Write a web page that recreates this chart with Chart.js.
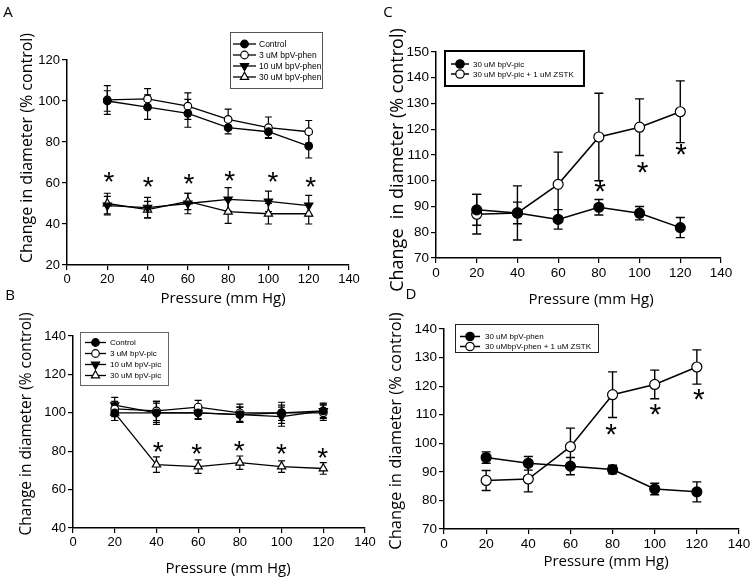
<!DOCTYPE html>
<html>
<head>
<meta charset="utf-8">
<script src="https://cdn.jsdelivr.net/npm/chart.js@4.4.1/dist/chart.umd.min.js"></script>
<style>
  html, body { margin: 0; padding: 0; background: #fff; }
  #wrap { position: relative; width: 753px; height: 580px; }
  canvas { position: absolute; left: 0; top: 0; }
</style>
</head>
<body>
<div id="wrap">
  <canvas id="panelA" width="753" height="580"></canvas>
  <canvas id="panelB" width="753" height="580"></canvas>
  <canvas id="panelC" width="753" height="580"></canvas>
  <canvas id="panelD" width="753" height="580"></canvas>
</div>
<script>
// Pressure steps (mm Hg)
const pressure = [20, 40, 60, 80, 100, 120];

// A: bpV-phen
const aControl    = [100, 97, 94, 87, 85, 78];
const aControlErr = [5, 6, 6.8, 3, 2.8, 5.8];
const a3uM        = [100.5, 101, 97.5, 91, 87, 85];
const a3uMErr     = [7, 5, 6.5, 5, 5.2, 5.5];
const a10uM       = [49, 48, 50, 52, 51, 49];
const a10uMErr    = [4.5, 5, 5, 5.7, 5, 5];
const a30uM       = [50, 47, 51, 46, 45, 45];
const a30uMErr    = [5, 4, 4, 5.7, 5, 5];
const aStarX      = [20.8, 40.3, 60.5, 80.8, 102.3, 121];
const aStarY      = [63, 60.6, 61.8, 63.4, 62.8, 60.6];

// B: bpV-pic
const bControl    = [100, 100, 100, 99, 100, 101];
const bControlErr = [4, 5, 3.5, 4, 4, 3.5];
const b3uM        = [102, 101, 103, 100, 100, 100];
const b3uMErr     = [4, 5, 3.5, 4.5, 5.5, 4];
const b10uM       = [104, 100, 100, 99, 98, 101];
const b10uMErr    = [4, 6, 3, 4, 5, 4];
const b30uM       = [100, 73, 72, 74, 72, 71];
const b30uMErr    = [4, 4, 3.5, 3.5, 3, 3];
const bStarX      = [40.9, 59.3, 79.7, 100, 119.7];
const bStarY      = [82.3, 81, 82.7, 81, 78.9];

// C: bpV-pic +/- ZSTK
const cPic        = [88.7, 87.5, 85, 89.7, 87.4, 81.8];
const cPicErr     = [6, 4.2, 3.8, 3, 2.6, 3.9];
const cZstk       = [87, 87.5, 98.6, 117, 120.8, 126.8];
const cZstkErr    = [7.7, 10.5, 12.5, 17, 11, 12];
const cStarX      = [80.6, 101.5, 120.4];
const cStarY      = [97.7, 105.1, 112];

// D: bpV-phen +/- ZSTK
const dPhen       = [95, 93, 92, 90.8, 84, 83];
const dPhenErr    = [2, 2.4, 3, 1.5, 2, 3.5];
const dZstk       = [87, 87.5, 98.8, 117, 120.6, 126.7];
const dZstkErr    = [3.5, 4.5, 6.5, 8, 5, 6];
const dStarX      = [79.3, 100.3, 120.9];
const dStarY      = [104.9, 112, 117.1];

const xTicks = [0, 140, 20];
const yTicksA = [20, 120, 20];
const yTicksB = [40, 140, 20];
const yTicksC = [70, 150, 10];
const yTicksD = [70, 140, 10];

const FILLED = { bg: '#000', style: 'circle', rot: 0 };
const OPEN = { bg: '#fff', style: 'circle', rot: 0 };
const DOWN = { bg: '#000', style: 'triangle', rot: 180 };
const UP = { bg: '#fff', style: 'triangle', rot: 0 };

Chart.defaults.font.family = '"Liberation Sans", Arial, sans-serif';
Chart.defaults.color = '#000';

function makeExtras(p) {
  return {
    id: 'extras',
    beforeDatasetsDraw(chart) {
      const ctx = chart.ctx, xs = chart.scales.x, ys = chart.scales.y;
      ctx.save();
      ctx.strokeStyle = '#000';
      ctx.lineWidth = p.barWidth;
      chart.data.datasets.forEach(ds => {
        ds.data.forEach((pt, i) => {
          const e = ds.errors[i];
          const x = xs.getPixelForValue(pt.x);
          const y1 = ys.getPixelForValue(pt.y + e);
          const y2 = ys.getPixelForValue(pt.y - e);
          ctx.beginPath();
          ctx.moveTo(x, y1); ctx.lineTo(x, y2);
          ctx.moveTo(x - p.cap, y1); ctx.lineTo(x + p.cap, y1);
          ctx.moveTo(x - p.cap, y2); ctx.lineTo(x + p.cap, y2);
          ctx.stroke();
        });
      });
      ctx.restore();
    },
    afterDraw(chart) {
      const ctx = chart.ctx, xs = chart.scales.x, ys = chart.scales.y;
      ctx.save();
      ctx.fillStyle = '#000';

      // asterisks
      ctx.font = p.starSize + 'px "Liberation Sans", Arial, sans-serif';
      ctx.textAlign = 'center';
      ctx.textBaseline = 'alphabetic';
      const m = ctx.measureText('*');
      const shift = (m.actualBoundingBoxAscent - m.actualBoundingBoxDescent) / 2;
      p.starX.forEach((sx, i) => {
        ctx.fillText('*', xs.getPixelForValue(sx), ys.getPixelForValue(p.starY[i]) + shift);
      });

      // legend box
      const lg = p.legend;
      ctx.strokeStyle = lg.border;
      ctx.lineWidth = lg.borderWidth;
      ctx.strokeRect(lg.box[0], lg.box[1], lg.box[2], lg.box[3]);
      ctx.font = lg.font + 'px "Liberation Sans", Arial, sans-serif';
      ctx.textAlign = 'left';
      ctx.textBaseline = 'middle';
      chart.data.datasets.forEach((ds, i) => {
        const y = lg.rows[i];
        ctx.strokeStyle = '#000';
        ctx.lineWidth = ds.borderWidth;
        ctx.beginPath();
        ctx.moveTo(lg.line[0], y); ctx.lineTo(lg.line[1], y);
        ctx.stroke();
        ctx.fillStyle = ds.pointBackgroundColor;
        ctx.lineWidth = ds.pointBorderWidth;
        Chart.helpers.drawPoint(ctx, {
          pointStyle: ds.pointStyle, rotation: ds.pointRotation,
          radius: lg.radius * ds.pointRadius / p.radius, borderWidth: ds.pointBorderWidth
        }, (lg.line[0] + lg.line[1]) / 2, y);
        ctx.fillStyle = '#000';
        ctx.fillText(ds.label, lg.textX, y + 0.5);
      });

      // axis titles and panel letter
      ctx.fillStyle = '#000';
      ctx.textAlign = 'center';
      ctx.textBaseline = 'middle';
      ctx.font = p.xTitle.size + 'px "Open Sans", sans-serif';
      ctx.fillText('Pressure (mm Hg)', p.xTitle.x, p.xTitle.y);
      ctx.font = '15px "Open Sans", sans-serif';
      ctx.fillText(p.letter.text, p.letter.x, p.letter.y);
      ctx.translate(p.yTitle.x, p.yTitle.y);
      ctx.rotate(-Math.PI / 2);
      ctx.font = p.yTitle.size + 'px "Open Sans", sans-serif';
      ctx.fillText(p.yTitle.text, 0, 0);
      ctx.restore();
    }
  };
}

function buildPanel(p) {
  const ctx = document.getElementById(p.id).getContext('2d');
  const datasets = p.series.map(s => {
    const big = s.kind.style === 'triangle';
    return {
      label: s.label,
      data: pressure.map((x, i) => ({ x: x, y: s.values[i] })),
      errors: s.errors,
      showLine: true,
      borderColor: '#000',
      borderWidth: p.lineWidth,
      pointStyle: s.kind.style,
      pointRotation: s.kind.rot,
      pointRadius: big ? p.radius * 1.25 : p.radius,
      pointBackgroundColor: s.kind.bg,
      pointBorderColor: '#000',
      pointBorderWidth: 1.2
    };
  });
  const axisGrid = { drawOnChartArea: false, drawTicks: true, tickLength: 5, color: '#000', lineWidth: 1.2 };
  const axisBorder = { display: true, color: '#000', width: 1.5 };
  return new Chart(ctx, {
    type: 'scatter',
    data: { datasets: datasets },
    options: {
      responsive: false,
      animation: false,
      devicePixelRatio: 1,
      layout: {
        padding: { left: p.area[0] - 40, top: p.area[1], right: 753 - p.area[2], bottom: 580 - p.area[3] - 30 }
      },
      plugins: { legend: { display: false }, tooltip: { enabled: false } },
      scales: {
        x: {
          type: 'linear', min: xTicks[0], max: xTicks[1],
          ticks: { stepSize: xTicks[2], font: { size: p.tickSize }, padding: 2, autoSkip: false, maxRotation: 0 },
          grid: axisGrid, border: axisBorder,
          afterFit: s => { s.height = 30; }
        },
        y: {
          type: 'linear', min: p.yTicks[0], max: p.yTicks[1],
          ticks: { stepSize: p.yTicks[2], font: { size: p.tickSize }, padding: 2, autoSkip: false },
          grid: axisGrid, border: axisBorder,
          afterFit: s => { s.width = 40; }
        }
      }
    },
    plugins: [makeExtras(p)]
  });
}

const panelA = buildPanel({
  id: 'panelA', area: [67, 60, 349, 265], yTicks: yTicksA, tickSize: 13,
  lineWidth: 1.3, radius: 3.8, barWidth: 1.2, cap: 3.5, starSize: 28,
  series: [
    { label: 'Control', values: aControl, errors: aControlErr, kind: FILLED },
    { label: '3 uM bpV-phen', values: a3uM, errors: a3uMErr, kind: OPEN },
    { label: '10 uM bpV-phen', values: a10uM, errors: a10uMErr, kind: DOWN },
    { label: '30 uM bpV-phen', values: a30uM, errors: a30uMErr, kind: UP }
  ],
  starX: aStarX, starY: aStarY,
  legend: { box: [230.5, 32.5, 92, 56], border: '#555', borderWidth: 1, rows: [44, 55, 66, 77],
            line: [233, 256], textX: 259, font: 8.5, radius: 3.8 },
  xTitle: { x: 223, y: 299, size: 15 },
  yTitle: { x: 27, y: 148, size: 16, text: 'Change in diameter (% control)' },
  letter: { text: 'A', x: 8, y: 13 }
});

const panelB = buildPanel({
  id: 'panelB', area: [73, 336, 365, 528], yTicks: yTicksB, tickSize: 13,
  lineWidth: 1.3, radius: 3.8, barWidth: 1.2, cap: 3.5, starSize: 28,
  series: [
    { label: 'Control', values: bControl, errors: bControlErr, kind: FILLED },
    { label: '3 uM bpV-pic', values: b3uM, errors: b3uMErr, kind: OPEN },
    { label: '10 uM bpV-pic', values: b10uM, errors: b10uMErr, kind: DOWN },
    { label: '30 uM bpV-pic', values: b30uM, errors: b30uMErr, kind: UP }
  ],
  starX: bStarX, starY: bStarY,
  legend: { box: [80.5, 332.5, 88, 53], border: '#666', borderWidth: 1, rows: [342.5, 353.5, 364.5, 375.5],
            line: [85, 106], textX: 110, font: 8, radius: 3.8 },
  xTitle: { x: 228, y: 569, size: 15 },
  yTitle: { x: 27, y: 424, size: 15.5, text: 'Change in diameter (% control)' },
  letter: { text: 'B', x: 10, y: 296 }
});

const panelC = buildPanel({
  id: 'panelC', area: [436, 52, 721, 258], yTicks: yTicksC, tickSize: 13.5,
  lineWidth: 1.5, radius: 5, barWidth: 1.4, cap: 4.5, starSize: 30,
  series: [
    { label: '30 uM bpV-pic', values: cPic, errors: cPicErr, kind: FILLED },
    { label: '30 uM bpV-pic + 1 uM ZSTK', values: cZstk, errors: cZstkErr, kind: OPEN }
  ],
  starX: cStarX, starY: cStarY,
  legend: { box: [445, 51, 139, 35], border: '#000', borderWidth: 2, rows: [64, 74],
            line: [451, 469], textX: 473, font: 8, radius: 4.2 },
  xTitle: { x: 591, y: 300, size: 15 },
  yTitle: { x: 398, y: 160, size: 18, text: 'Change  in diameter (% control)' },
  letter: { text: 'C', x: 388, y: 13 }
});

const panelD = buildPanel({
  id: 'panelD', area: [444, 329, 739, 529], yTicks: yTicksD, tickSize: 13.5,
  lineWidth: 1.5, radius: 5, barWidth: 1.4, cap: 4.5, starSize: 30,
  series: [
    { label: '30 uM bpV-phen', values: dPhen, errors: dPhenErr, kind: FILLED },
    { label: '30 uMbpV-phen + 1 uM ZSTK', values: dZstk, errors: dZstkErr, kind: OPEN }
  ],
  starX: dStarX, starY: dStarY,
  legend: { box: [455.5, 324.5, 143, 28], border: '#222', borderWidth: 1, rows: [336.5, 346.5],
            line: [460, 480], textX: 485, font: 8, radius: 4.2 },
  xTitle: { x: 606, y: 562, size: 15 },
  yTitle: { x: 396, y: 431, size: 16.5, text: 'Change in diameter (% control)' },
  letter: { text: 'D', x: 411, y: 295 }
});
</script>
</body>
</html>
